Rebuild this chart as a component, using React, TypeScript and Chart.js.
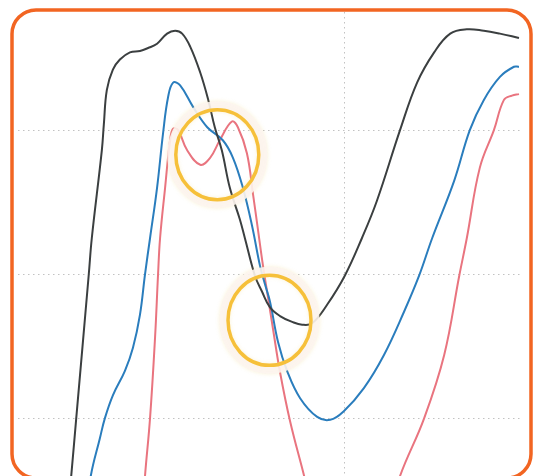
import React, { useEffect, useRef } from "react";
import { Chart, registerables } from "chart.js";

Chart.register(...registerables);

const blackX = [9.4, 10.6, 11.6, 14.1, 14.7, 16.7, 17.1, 17.7, 18.9, 20.3, 22.3, 24.3, 25.9, 27.7, 29.7, 31.3, 32.7, 34.3, 36.3, 37.9, 39.2, 40.6, 42.2, 44.2, 45.2, 47.2, 48.6, 50.2, 52.2, 54.6, 56.6, 58.6, 61.6, 65.1, 68.5, 71.5, 76.1, 79.5, 82.9, 86.1, 89.4, 92.8, 96.0, 99.8];
const blackY = [1.5, 6.0, 10.0, 20.0, 22.5, 28.6, 30.4, 32.8, 34.2, 34.9, 35.4, 35.5, 35.7, 36.0, 36.7, 36.9, 36.7, 35.8, 34.0, 32.1, 30.2, 28.6, 26.0, 23.8, 22.5, 19.9, 18.8, 17.7, 17.1, 16.7, 16.5, 16.6, 17.9, 19.9, 22.5, 25.1, 30.0, 33.3, 35.4, 36.7, 37.0, 36.9, 36.7, 36.4];

const blueX = [13.4, 14.5, 16.3, 17.3, 18.9, 21.3, 22.9, 24.3, 25.3, 26.3, 27.7, 28.9, 29.9, 30.9, 32.3, 34.9, 37.7, 40.8, 42.8, 44.8, 46.6, 48.2, 49.2, 50.2, 51.8, 53.6, 56.2, 59.6, 62.2, 64.9, 68.9, 72.9, 76.9, 79.9, 82.5, 86.9, 90.0, 92.8, 96.0, 98.8, 99.8];
const blueY = [2.9, 6.0, 8.6, 10.0, 11.6, 13.3, 14.9, 17.2, 20.0, 22.5, 26.0, 29.8, 32.3, 33.3, 33.1, 31.6, 30.2, 29.3, 28.1, 26.0, 23.4, 20.6, 19.3, 18.1, 15.3, 13.3, 11.4, 10.1, 9.9, 10.5, 12.1, 14.4, 17.4, 19.9, 22.5, 26.5, 30.0, 32.1, 33.7, 34.4, 34.4];

const redX = [24.7, 25.3, 26.3, 27.3, 27.9, 28.3, 29.3, 30.3, 30.9, 31.9, 33.7, 36.3, 38.3, 40.2, 42.6, 43.8, 45.6, 46.8, 47.8, 48.8, 49.8, 50.8, 52.2, 54.2, 57.0, 60.2, 66.1, 72.1, 76.1, 80.9, 84.9, 87.9, 89.4, 92.0, 94.8, 96.8, 98.4, 99.8];
const redY = [2.9, 6.0, 10.0, 15.6, 20.0, 22.5, 26.0, 29.3, 30.1, 30.0, 28.6, 27.6, 28.1, 29.3, 30.6, 30.2, 28.4, 25.6, 23.1, 20.6, 18.4, 16.2, 13.2, 9.8, 6.0, 1.5, -0.6, 1.5, 6.0, 10.0, 14.4, 19.9, 22.5, 27.4, 30.0, 32.1, 32.4, 32.5];

const xGridTicks = [65];
const yGridTicks = [10, 20, 30];

const highlightCenters = [
  { x: 39.7, y: 28.3 },
  { x: 50.1, y: 16.8 },
];

const toPoints = (xs: number[], ys: number[]) => xs.map((x, i) => ({ x, y: ys[i] }));

export default function App() {
  const ref = useRef<HTMLCanvasElement | null>(null);

  useEffect(() => {
    if (!ref.current) return;

    const decor = {
      id: "decor",
      afterDatasetsDraw(chart: any) {
        const ctx = chart.ctx;
        const xs = chart.scales.x;
        const ys = chart.scales.y;
        highlightCenters.forEach((c) => {
          const cx = xs.getPixelForValue(c.x);
          const cy = ys.getPixelForValue(c.y);
          ctx.save();
          ctx.shadowColor = "rgba(235,205,100,0.3)";
          ctx.shadowBlur = 4;
          ctx.strokeStyle = "rgba(253,245,240,0.88)";
          ctx.lineWidth = 10;
          ctx.beginPath();
          ctx.ellipse(cx, cy, 45, 48.5, 0, 0, Math.PI * 2);
          ctx.stroke();
          ctx.shadowBlur = 0;
          ctx.shadowColor = "transparent";
          ctx.strokeStyle = "#F6C03A";
          ctx.lineWidth = 3.5;
          ctx.beginPath();
          ctx.ellipse(cx, cy, 41.5, 45, 0, 0, Math.PI * 2);
          ctx.stroke();
          ctx.restore();
        });
      },
      afterDraw(chart: any) {
        const ctx = chart.ctx;
        ctx.save();
        ctx.strokeStyle = "#F26522";
        ctx.lineWidth = 3.5;
        const x0 = 12, y0 = 10, x1 = 531, y1 = 478, r = 24;
        ctx.beginPath();
        ctx.moveTo(x0 + r, y0);
        ctx.lineTo(x1 - r, y0);
        ctx.arcTo(x1, y0, x1, y0 + r, r);
        ctx.lineTo(x1, y1 - r);
        ctx.arcTo(x1, y1, x1 - r, y1, r);
        ctx.lineTo(x0 + r, y1);
        ctx.arcTo(x0, y1, x0, y1 - r, r);
        ctx.lineTo(x0, y0 + r);
        ctx.arcTo(x0, y0, x0 + r, y0, r);
        ctx.closePath();
        ctx.stroke();
        ctx.restore();
      },
    };

    const lineDs = (data: any, color: string) => ({
      data,
      borderColor: color,
      borderWidth: 2,
      pointRadius: 0,
      fill: false,
      tension: 0.4,
    });

    const chart = new Chart(ref.current, {
      type: "line",
      data: {
        datasets: [
          lineDs(toPoints(blackX, blackY), "#3b3f40"),
          lineDs(toPoints(blueX, blueY), "#2a7dbd"),
          lineDs(toPoints(redX, redY), "#e9747f"),
        ],
      },
      options: {
        animation: false,
        responsive: false,
        devicePixelRatio: 1,
        layout: { padding: { left: 18, right: 14, top: 12, bottom: 0 } },
        plugins: { legend: { display: false }, tooltip: { enabled: false } },
        scales: {
          x: {
            type: "linear",
            min: 0,
            max: 100,
            afterBuildTicks: (s: any) => {
              s.ticks = xGridTicks.map((v) => ({ value: v }));
            },
            ticks: { display: false },
            grid: { color: "rgba(120,120,120,0.45)", drawTicks: false, lineWidth: 1 },
            border: { display: false, dash: [1.5, 3.5] },
          },
          y: {
            type: "linear",
            min: 6,
            max: 38.2,
            afterBuildTicks: (s: any) => {
              s.ticks = yGridTicks.map((v) => ({ value: v }));
            },
            ticks: { display: false },
            grid: { color: "rgba(120,120,120,0.45)", drawTicks: false, lineWidth: 1 },
            border: { display: false, dash: [1.5, 3.5] },
          },
        },
      },
      plugins: [decor],
    });

    return () => chart.destroy();
  }, []);

  return (
    <div style={{ position: "fixed", left: 0, top: 0, width: 534, height: 476, background: "#fff" }}>
      <canvas ref={ref} width={534} height={476} />
    </div>
  );
}
